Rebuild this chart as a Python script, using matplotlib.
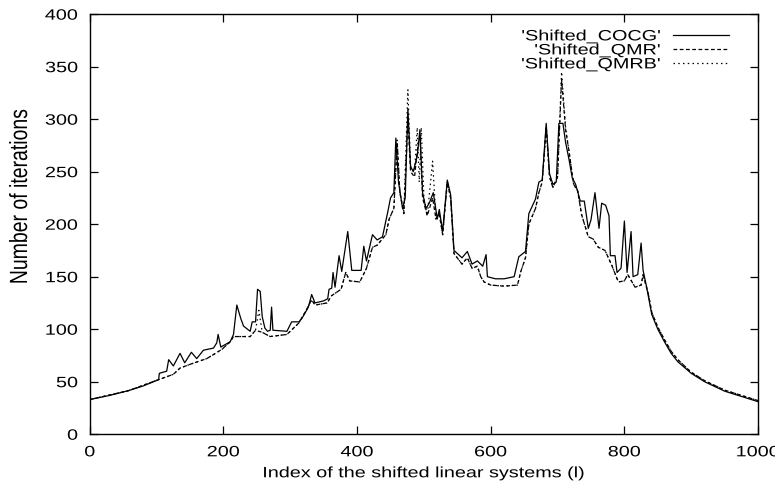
import matplotlib
matplotlib.use("Agg")
import matplotlib.pyplot as plt
from matplotlib import patheffects
from matplotlib.transforms import Affine2D

plt.rcParams["font.family"] = ["Liberation Sans", "DejaVu Sans"]

# ---- data (index l, iterations) ----
cocg_x = [0, 30, 58, 80, 103, 104, 115, 118, 125, 135, 142, 152, 160, 170, 185, 190, 192, 196,
          210, 215, 220, 226, 230, 240, 243, 248, 251, 255, 258, 262, 266, 270, 272, 274, 295,
          302, 313, 319, 327, 332, 337, 350, 356, 358, 362, 364, 367, 373, 377, 386, 392, 406,
          410, 414, 423, 430, 438, 446, 450, 455, 458, 462, 468, 472, 476, 480, 484, 490, 494,
          498, 503, 508, 514, 520, 523, 528, 535, 540, 545, 557, 565, 572, 580, 588, 593, 595,
          607, 620, 635, 642, 652, 657, 667, 672, 677, 683, 688, 693, 698, 702, 708, 712, 717,
          722, 727, 734, 740, 746, 750, 756, 762, 766, 772, 777, 779, 786, 789, 795, 800, 804,
          810, 813, 820, 825, 828, 833, 841, 850, 860, 870, 880, 900, 920, 950, 975, 1000]
cocg_y = [33, 37, 41.5, 46, 52, 58, 60, 71, 65, 77, 68, 78, 72, 80, 82, 87, 95, 83,
          88, 95, 123, 110, 103, 98, 107, 107, 138, 136, 112, 101, 98, 99, 121, 99, 98,
          107, 107, 112, 121, 133, 125, 127, 129, 138, 139, 154, 140, 170, 155, 193, 156, 156,
          179, 165, 190, 185, 188, 212, 225, 230, 282, 240, 215, 225, 310, 255, 250, 265, 290,
          230, 215, 220, 230, 205, 214, 193, 242, 228, 175, 168, 174, 162, 165, 160, 171, 150,
          148, 148, 150, 169, 174, 210, 224, 240, 242, 296, 248, 238, 240, 296, 296, 278, 262,
          244, 238, 222, 222, 196, 204, 230, 196, 220, 218, 208, 170, 170, 154, 158, 203, 154,
          193, 150, 152, 182, 156, 141, 114, 100, 88, 77, 69, 58, 50, 41, 36, 31]

qmr_x = [0, 58, 103, 125, 135, 152, 175, 188, 198, 210, 215, 240, 248, 258, 270, 295, 313,
         323, 332, 337, 355, 362, 376, 383, 389, 404, 414, 423, 430, 443, 448, 455, 460, 464,
         470, 476, 480, 486, 490, 494, 498, 505, 513, 518, 523, 528, 535, 540, 545, 557, 565,
         572, 580, 585, 590, 600, 620, 640, 645, 652, 657, 667, 672, 677, 683, 688, 693, 700,
         706, 712, 717, 724, 730, 736, 746, 753, 761, 771, 781, 791, 800, 805, 816, 825, 828,
         836, 841, 850, 860, 870, 880, 900, 920, 950, 975, 1000]
qmr_y = [33, 41.5, 52, 57, 63, 67, 72, 77, 81, 88, 93, 93, 99, 97, 93, 95, 106,
         117, 128, 123, 125, 132, 138, 154, 146, 145, 158, 178, 180, 190, 205, 215, 278, 230,
         210, 300, 250, 245, 270, 285, 225, 208, 225, 205, 210, 190, 240, 225, 172, 162, 168,
         158, 160, 150, 145, 142, 141, 142, 155, 168, 200, 215, 230, 240, 293, 245, 235, 245,
         338, 290, 270, 238, 232, 209, 188, 186, 178, 175, 161, 145, 146, 152, 140, 142, 152,
         133, 116, 102, 90, 79, 71, 59, 51, 42, 37, 32]

qmrb_x = [0, 58, 103, 125, 135, 152, 175, 188, 198, 210, 215, 240, 248, 253, 258, 270, 295,
          313, 323, 332, 337, 355, 362, 376, 383, 389, 404, 414, 423, 430, 443, 448, 455, 460,
          464, 470, 476, 480, 486, 490, 493, 496, 500, 505, 513, 518, 523, 528, 535, 540, 545,
          557, 565, 572, 580, 585, 590, 600, 620, 640, 645, 652, 657, 667, 672, 677, 680, 683,
          688, 693, 700, 706, 712, 717, 724, 730, 736, 746, 753, 761, 771, 781, 791, 800, 805,
          816, 825, 828, 836, 841, 850, 860, 870, 880, 900, 920, 950, 975, 1000]
qmrb_y = [33, 41.5, 52, 57, 63, 67, 72, 77, 81, 88, 93, 93, 99, 118, 97, 93, 95,
          106, 117, 128, 123, 125, 132, 138, 154, 146, 145, 158, 178, 180, 190, 205, 215, 280,
          230, 212, 328, 255, 250, 292, 240, 292, 225, 208, 260, 205, 210, 190, 240, 225, 172,
          162, 168, 158, 160, 150, 145, 142, 141, 142, 155, 168, 200, 215, 230, 240, 265, 290,
          245, 235, 245, 345, 292, 270, 238, 232, 209, 188, 186, 178, 175, 161, 145, 146, 152,
          140, 142, 152, 133, 116, 102, 90, 79, 71, 59, 51, 42, 37, 32]

x_ticks = [0, 200, 400, 600, 800, 1000]
y_ticks = [0, 50, 100, 150, 200, 250, 300, 350, 400]


# the reference (gnuplot output) has horizontally stretched lettering
class Stretch(patheffects.AbstractPathEffect):
    def __init__(self, sx=1.0, anchor="center", sy=1.0):
        super().__init__()
        self.sx = sx
        self.sy = sy
        self.anchor = anchor

    def draw_path(self, renderer, gc, tpath, affine, rgbFace=None):
        ext = tpath.get_extents()
        p = {"left": ext.x0, "center": 0.5 * (ext.x0 + ext.x1), "right": ext.x1}[self.anchor]
        pre = Affine2D().translate(-p, 0).scale(self.sx, self.sy).translate(p, 0)
        renderer.draw_path(gc, tpath, pre + affine, rgbFace)


FS = 10.8
SX = 1.32

# ---- figure ----
fig = plt.figure(figsize=(7.75, 4.89), dpi=100)
ax = fig.add_axes([0.1159, 0.110, 0.8622, 0.859])

ax.plot(cocg_x, cocg_y, color="black", lw=0.9, ls="-", label="'Shifted_COCG'")
ax.plot(qmr_x, qmr_y, color="black", lw=0.9, ls=(0, (3, 2)), label="'Shifted_QMR'")
ax.plot(qmrb_x, qmrb_y, color="black", lw=0.9, ls=(0, (1.2, 2.6)), label="'Shifted_QMRB'")

ax.set_xlim(0, 1000)
ax.set_ylim(0, 400)
ax.set_xticks(x_ticks)
ax.set_yticks(y_ticks)
ax.tick_params(direction="in", length=6, width=0.9, labelsize=FS,
               top=True, right=True)
ax.tick_params(axis="y", pad=8.5)
ax.tick_params(axis="x", pad=8)
for sp in ax.spines.values():
    sp.set_linewidth(1.0)

for t in ax.get_xticklabels():
    t.set_path_effects([Stretch(SX, "center")])
for t in ax.get_yticklabels():
    t.set_path_effects([Stretch(SX, "right")])

xl = ax.set_xlabel("Index of the shifted linear systems (l)", fontsize=FS, labelpad=5)
xl.set_path_effects([Stretch(SX, "center")])
yl = ax.set_ylabel("Number of iterations", fontsize=14)
yl.set_path_effects([Stretch(1.0, "center", sy=1.28)])
ax.yaxis.set_label_coords(-0.088, 0.567)

leg = ax.legend(loc="upper right", frameon=False, markerfirst=False, fontsize=FS,
                handlelength=3.7, handletextpad=0.8, labelspacing=0.0,
                borderaxespad=0.0, bbox_to_anchor=(0.965, 0.978))
for t in leg.get_texts():
    t.set_path_effects([Stretch(SX, "right")])

fig.savefig("out.png", dpi=100)
